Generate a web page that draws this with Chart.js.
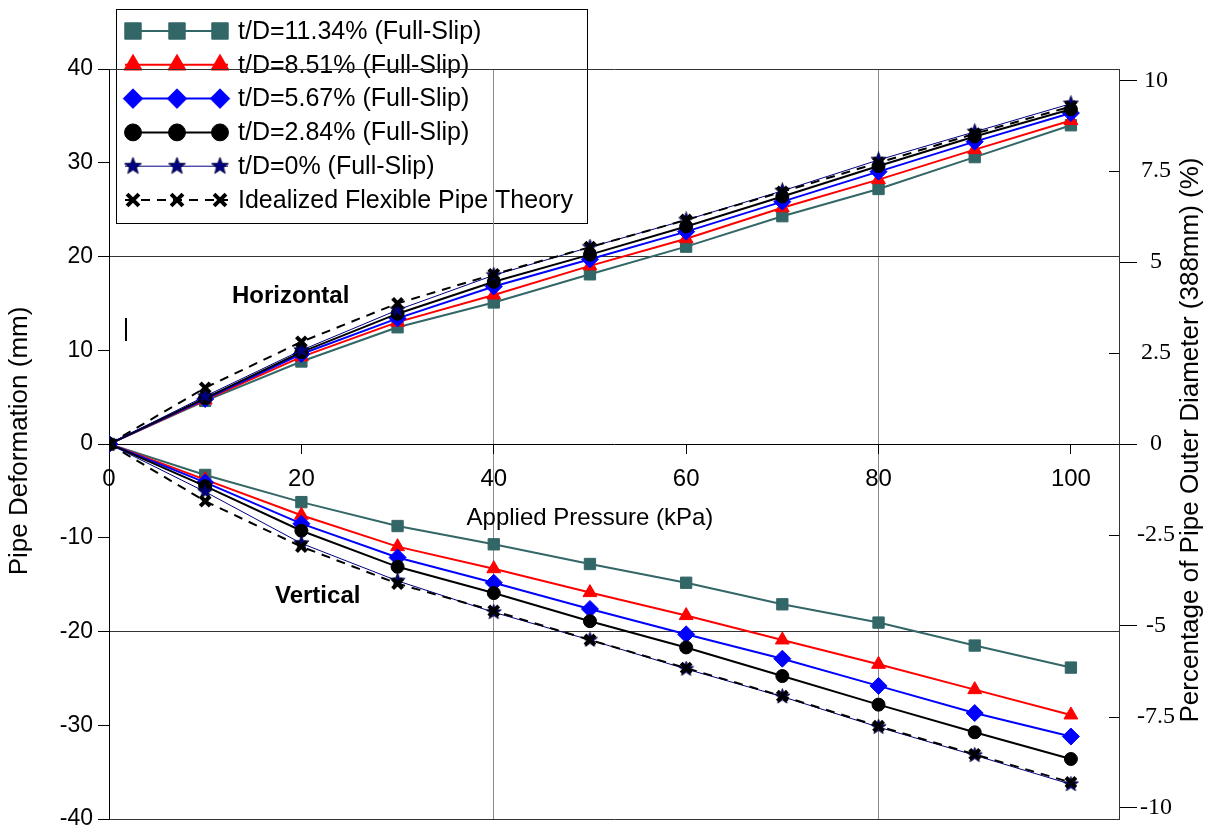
<!DOCTYPE html>
<html>
<head>
<meta charset="utf-8">
<script src="https://cdn.jsdelivr.net/npm/chart.js@4.4.0/dist/chart.umd.min.js"></script>
<style>
    html, body { margin: 0; padding: 0; background: #fff; }
    canvas { display: block; background: #fff; }
</style>
</head>
<body>
<canvas id="deformChart" width="1212" height="833"></canvas>
<script>
// applied pressure (kPa)
const pressure = [0, 10, 20, 30, 40, 50, 60, 70, 80, 90, 100];

// horizontal deformation (mm)
const horiz1134 = [0, 4.6, 8.8, 12.45, 15.1, 18.1, 21.05, 24.3, 27.2, 30.6, 34.0];
const horiz851  = [0, 4.7, 9.3, 13.0, 15.9, 19.0, 21.9, 25.2, 28.2, 31.4, 34.5];
const horiz567  = [0, 4.8, 9.6, 13.4, 16.8, 19.7, 22.65, 25.85, 29.05, 32.25, 35.3];
const horiz284  = [0, 4.9, 9.8, 13.9, 17.3, 20.2, 23.2, 26.4, 29.65, 32.8, 35.7];
const horiz0    = [0, 5.1, 10.0, 14.3, 18.0, 21.0, 23.9, 27.0, 30.3, 33.3, 36.3];
const horizIdeal = [0, 6.0, 10.9, 15.0, 18.1, 21.0, 23.9, 26.9, 30.0, 33.1, 36.0];

// vertical deformation (mm)
const vert1134 = [0, -3.3, -6.2, -8.75, -10.7, -12.8, -14.8, -17.1, -19.05, -21.5, -23.85];
const vert851  = [0, -3.8, -7.6, -10.95, -13.3, -15.85, -18.3, -20.9, -23.5, -26.2, -28.9];
const vert567  = [0, -4.1, -8.5, -12.1, -14.8, -17.6, -20.3, -22.9, -25.8, -28.7, -31.2];
const vert284  = [0, -4.5, -9.25, -13.1, -15.9, -18.9, -21.7, -24.75, -27.8, -30.75, -33.6];
const vert0    = [0, -5.1, -10.6, -14.6, -17.95, -20.9, -24.0, -26.95, -30.2, -33.2, -36.3];
const vertIdeal = [0, -6.1, -10.95, -14.9, -17.8, -20.9, -23.9, -26.9, -30.1, -33.1, -36.1];

const seriesLabels = [
    't/D=11.34% (Full-Slip)',
    't/D=8.51% (Full-Slip)',
    't/D=5.67% (Full-Slip)',
    't/D=2.84% (Full-Slip)',
    't/D=0% (Full-Slip)',
    'Idealized Flexible Pipe Theory'
];
const xTickValues = [0, 20, 40, 60, 80, 100];
const rightTickValues = [10, 7.5, 5, 2.5, 0, -2.5, -5, -7.5, -10];
const pipeOD = 388; // mm

const horizSeries = [horiz1134, horiz851, horiz567, horiz284, horiz0, horizIdeal];
const vertSeries = [vert1134, vert851, vert567, vert284, vert0, vertIdeal];

// filled navy star marker
function makeStar(size, color) {
    const c = document.createElement('canvas');
    c.width = size; c.height = size;
    const g = c.getContext('2d');
    const cx = size / 2, cy = size / 2, ro = size / 2 - 0.5, ri = ro * 0.42;
    g.beginPath();
    for (let k = 0; k < 10; k++) {
        const r = k % 2 === 0 ? ro : ri;
        const a = -Math.PI / 2 + k * Math.PI / 5;
        g.lineTo(cx + r * Math.cos(a), cy + r * Math.sin(a));
    }
    g.closePath();
    g.fillStyle = color;
    g.fill();
    g.strokeStyle = '#000033';
    g.lineWidth = 0.8;
    g.stroke();
    return c;
}
const starSmall = makeStar(17, '#000080');
const starBig = makeStar(19, '#000080');

const seriesStyles = [
    { color: '#336666', pointStyle: 'rect', radius: 8, width: 2, legendScale: 1.45 },
    { color: '#ff0000', pointStyle: 'triangle', radius: 8, width: 2, legendScale: 1.3 },
    { color: '#0000ff', pointStyle: 'rectRot', radius: 8.5, width: 2, legendScale: 1.15 },
    { color: '#000000', pointStyle: 'circle', radius: 6.5, width: 2, legendScale: 1.3 },
    { color: '#000080', pointStyle: starSmall, legendStyle: starBig, radius: 8, width: 1, legendScale: 1 },
    { color: '#000000', pointStyle: 'crossRot', radius: 7, width: 2, dash: [9, 7], pointWidth: 4, legendScale: 1.2 }
];

function toPoints(arr) {
    return pressure.map((p, i) => ({ x: p, y: arr[i] }));
}

const datasets = [];
// Chart.js paints dataset 0 on top, so the ideal curve and the stars go first
[5, 4, 3, 2, 1, 0].forEach(i => {
    const st = seriesStyles[i];
    [horizSeries[i], vertSeries[i]].forEach(arr => {
        datasets.push({
            label: seriesLabels[i],
            data: toPoints(arr),
            borderColor: st.color,
            backgroundColor: st.color,
            borderWidth: st.width,
            borderDash: st.dash || [],
            pointStyle: st.pointStyle,
            pointRadius: st.radius,
            pointHoverRadius: st.radius,
            pointBackgroundColor: st.color,
            pointBorderColor: st.color,
            pointBorderWidth: st.pointWidth || 1,
            tension: 0,
            fill: false
        });
    });
});

// legend box drawn under the grid, like the reference
const legendBox = {
    id: 'legendBox',
    beforeDraw(chart) {
        const ctx = chart.ctx;
        ctx.save();
        ctx.fillStyle = '#fff';
        ctx.fillRect(116, 9, 472, 214);
        ctx.strokeStyle = '#000';
        ctx.lineWidth = 1;
        ctx.strokeRect(116.5, 9.5, 471, 214);
        ctx.font = '25px "Liberation Sans", Arial, sans-serif';
        ctx.textBaseline = 'middle';
        seriesLabels.forEach((lab, i) => {
            const st = seriesStyles[i];
            const y = 31 + i * 33.8;
            ctx.strokeStyle = st.color;
            ctx.lineWidth = st.width;
            ctx.setLineDash(st.dash || []);
            ctx.beginPath();
            ctx.moveTo(125, y);
            ctx.lineTo(228, y);
            ctx.stroke();
            ctx.setLineDash([]);
            [133, 177, 220].forEach(mx => {
                ctx.fillStyle = st.color;
                ctx.strokeStyle = st.color;
                ctx.lineWidth = st.pointWidth || 1;
                Chart.helpers.drawPoint(ctx, {
                    pointStyle: st.legendStyle || st.pointStyle,
                    radius: st.radius * st.legendScale,
                    rotation: 0,
                    borderWidth: st.pointWidth || 1
                }, mx, y);
            });
            ctx.fillStyle = '#000';
            ctx.fillText(lab, 238, y + 1);
        });
        ctx.restore();
    }
};

const annotations = {
    id: 'annotations',
    afterDraw(chart) {
        const ctx = chart.ctx;
        const xs = chart.scales.x, ys = chart.scales.y, y2 = chart.scales.y2;
        ctx.save();
        // inward minor ticks on the right axis
        ctx.strokeStyle = '#000';
        ctx.lineWidth = 1;
        [7.5, 2.5, -2.5, -7.5].forEach(v => {
            const py = Math.round(y2.getPixelForValue(v)) + 0.5;
            ctx.beginPath();
            ctx.moveTo(chart.chartArea.right - 10, py);
            ctx.lineTo(chart.chartArea.right, py);
            ctx.stroke();
        });
        // small mark near the left axis
        ctx.lineWidth = 2;
        ctx.beginPath();
        ctx.moveTo(126, 318);
        ctx.lineTo(126, 341);
        ctx.stroke();

        ctx.fillStyle = '#000';
        ctx.textBaseline = 'middle';
        ctx.font = 'bold 24px "Liberation Sans", Arial, sans-serif';
        ctx.textAlign = 'left';
        ctx.fillText('Horizontal', 232, 296);
        ctx.fillText('Vertical', 275, 596);

        ctx.font = '24px "Liberation Sans", Arial, sans-serif';
        ctx.textAlign = 'center';
        ctx.fillText('Applied Pressure (kPa)', xs.getPixelForValue(50), ys.getPixelForValue(0) + 74);

        ctx.font = '26px "Liberation Sans", Arial, sans-serif';
        ctx.save();
        ctx.translate(20, 441);
        ctx.rotate(-Math.PI / 2);
        ctx.fillText('Pipe Deformation (mm)', 0, 0);
        ctx.restore();
        ctx.save();
        ctx.translate(1191, 440);
        ctx.rotate(-Math.PI / 2);
        ctx.fillText('Percentage of Pipe Outer Diameter (388mm) (%)', 0, 0);
        ctx.restore();
        ctx.restore();
    }
};

const ctx = document.getElementById('deformChart').getContext('2d');
new Chart(ctx, {
    type: 'line',
    data: { datasets: datasets },
    plugins: [legendBox, annotations],
    options: {
        responsive: false,
        animation: false,
        events: [],
        layout: { autoPadding: false, padding: { left: 0, right: 0, top: 69, bottom: 14 } },
        plugins: { legend: { display: false }, tooltip: { enabled: false } },
        scales: {
            x: {
                type: 'linear',
                position: { y: 0 },
                min: 0,
                max: 105,
                afterBuildTicks: s => { s.ticks = xTickValues.map(v => ({ value: v })); },
                grid: {
                    color: c => (c.tick && (c.tick.value === 40 || c.tick.value === 80)) ? '#8a8a8a' : 'rgba(0,0,0,0)',
                    tickColor: '#000',
                    tickLength: 9,
                    lineWidth: 1
                },
                border: { color: '#000', width: 1 },
                ticks: {
                    color: '#000',
                    maxRotation: 0,
                    padding: 12,
                    font: { family: '"Liberation Sans", Arial, sans-serif', size: 24 }
                }
            },
            y: {
                position: 'left',
                min: -40,
                max: 40,
                ticks: {
                    stepSize: 10,
                    color: '#000',
                    padding: 5,
                    font: { family: '"Liberation Sans", Arial, sans-serif', size: 23 }
                },
                grid: {
                    color: c => (c.tick && (Math.abs(c.tick.value) === 20 || Math.abs(c.tick.value) === 40)) ? '#333' : 'rgba(0,0,0,0)',
                    tickColor: '#000',
                    tickLength: 11
                },
                border: { color: '#000', width: 1 },
                afterFit: s => { s.width = 109; s.paddingTop = 0; s.paddingBottom = 0; }
            },
            y2: {
                position: 'right',
                min: -40 / pipeOD * 100,
                max: 40 / pipeOD * 100,
                afterBuildTicks: s => { s.ticks = rightTickValues.map(v => ({ value: v })); },
                ticks: {
                    color: '#000',
                    padding: 0,
                    crossAlign: 'center',
                    callback: v => String(v),
                    font: { family: '"Liberation Serif", "Times New Roman", serif', size: 24 }
                },
                grid: {
                    drawOnChartArea: false,
                    tickColor: c => (c.tick && c.tick.value % 5 === 0) ? '#000' : 'rgba(0,0,0,0)',
                    tickLength: 18
                },
                border: { color: '#333', width: 1 },
                afterFit: s => { s.width = 93; s.paddingTop = 0; s.paddingBottom = 0; }
            }
        }
    }
});
</script>
</body>
</html>
